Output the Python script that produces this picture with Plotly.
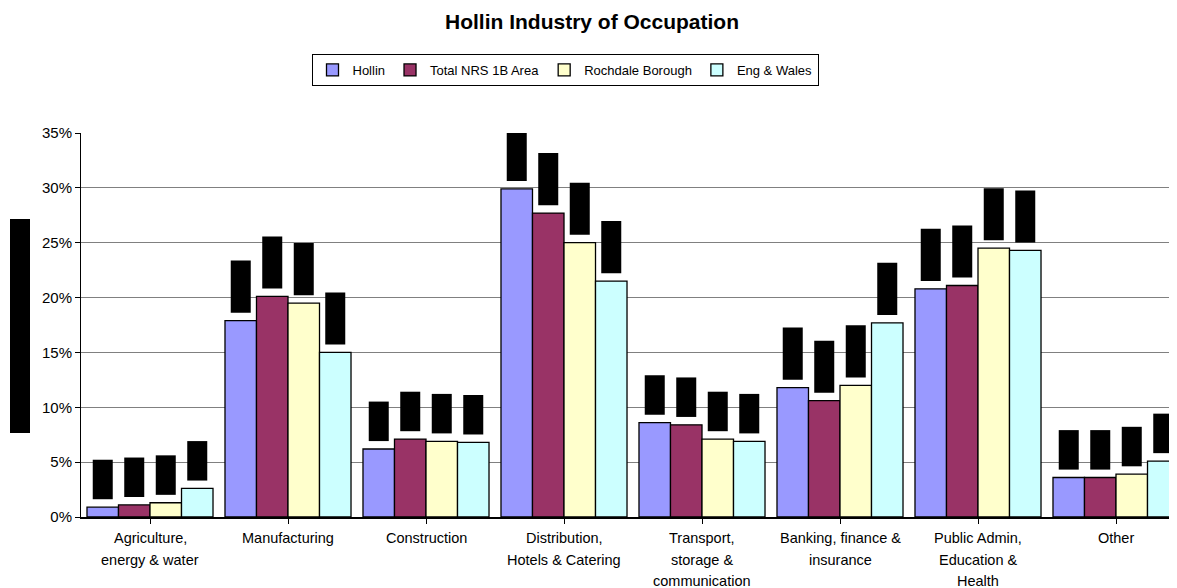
import plotly.graph_objects as go

categories = [
    "Agriculture,\nenergy & water",
    "Manufacturing",
    "Construction",
    "Distribution,\nHotels & Catering",
    "Transport,\nstorage &\ncommunication",
    "Banking, finance &\ninsurance",
    "Public Admin,\nEducation &\nHealth",
    "Other",
]
series_names = ["Hollin", "Total NRS 1B Area", "Rochdale Borough", "Eng & Wales"]
hollin = [0.9, 17.9, 6.2, 29.9, 8.6, 11.8, 20.8, 3.6]
total_nrs = [1.1, 20.1, 7.1, 27.7, 8.4, 10.6, 21.1, 3.6]
rochdale = [1.3, 19.5, 6.9, 25.0, 7.1, 12.0, 24.5, 3.9]
eng_wales = [2.6, 15.0, 6.8, 21.5, 6.9, 17.7, 24.3, 5.1]
series_values = [hollin, total_nrs, rochdale, eng_wales]
colors = ["#9999FF", "#993366", "#FFFFCC", "#CCFFFF"]

FONT = "Arial, Liberation Sans, sans-serif"
x_idx = list(range(len(categories)))
bar_w = 0.2283
box_w = 0.145
start = -2 * bar_w

# page body offsets the figure by 8px; layout numbers below account for it
fig = go.Figure()
for i, (name, vals, col) in enumerate(zip(series_names, series_values, colors)):
    fig.add_trace(go.Bar(
        x=x_idx, y=vals, name=name,
        marker=dict(color=col, line=dict(color="black", width=1.3)),
        width=bar_w, offset=start + i * bar_w,
        hovertemplate="%{y:.1f}%<extra>" + name + "</extra>",
    ))
# redacted data labels (black boxes above each bar)
for i, vals in enumerate(series_values):
    labels = [f"{v:.1f}%" for v in vals]
    heights = [1.15 * len(t) - 1.0 for t in labels]
    fig.add_trace(go.Bar(
        x=x_idx, y=heights, base=[v + 0.72 for v in vals],
        marker=dict(color="black", line=dict(width=0)),
        width=box_w, offset=start + i * bar_w + (bar_w - box_w) / 2,
        showlegend=False, hovertext=labels, hoverinfo="text",
        cliponaxis=False,
    ))

# category labels as multi-line annotations
for ci, cat in enumerate(categories):
    for li, line in enumerate(cat.split("\n")):
        fig.add_annotation(
            x=ci, y=0, xref="x", yref="paper", text=line, showarrow=False,
            yanchor="middle", yshift=-21 - 21.5 * li,
            font=dict(family=FONT, size=14.5, color="black"),
        )

PW = 1104.0
PH = 384.0
# redacted y-axis title
fig.add_shape(type="rect", xref="paper", yref="paper",
              x0=(10 - 81) / PW, x1=(30 - 81) / PW,
              y0=(517 - 433) / PH, y1=(517 - 219) / PH,
              fillcolor="black", line=dict(width=0), layer="above")

fig.update_layout(
    width=1177, height=588,
    margin=dict(l=73, r=0, t=125, b=79),
    paper_bgcolor="white", plot_bgcolor="white",
    barmode="overlay",
    font=dict(family=FONT, size=12, color="black"),
    title=dict(text="<b>Hollin Industry of Occupation</b>", x=584 / 1177, xref="container",
               xanchor="center", y=1 - 14 / 588, yref="container", yanchor="middle",
               font=dict(family=FONT, size=21, color="black")),
    legend=dict(orientation="h", x=557 / 1177, xref="container", xanchor="center",
                y=1 - 62 / 588, yref="container", yanchor="middle",
                bordercolor="black", borderwidth=1, bgcolor="white",
                font=dict(family=FONT, size=13, color="black"),
                itemwidth=30, tracegroupgap=0),
    showlegend=True,
)
fig.update_xaxes(
    range=[-0.5, 7.5], tickmode="array", tickvals=x_idx,
    showticklabels=False, ticks="outside", ticklen=5, tickcolor="black",
    tickson="boundaries", showline=True, linecolor="black", linewidth=2,
    showgrid=False, zeroline=False, fixedrange=True,
)
fig.update_yaxes(
    range=[0, 35], dtick=5, ticksuffix="%", ticks="outside", ticklen=5,
    tickcolor="black", showline=True, linecolor="black", linewidth=1,
    showgrid=True, gridcolor="#808080", gridwidth=1, zeroline=False,
    tickfont=dict(family=FONT, size=15, color="black"), fixedrange=True,
)

fig.write_html("out.html")
